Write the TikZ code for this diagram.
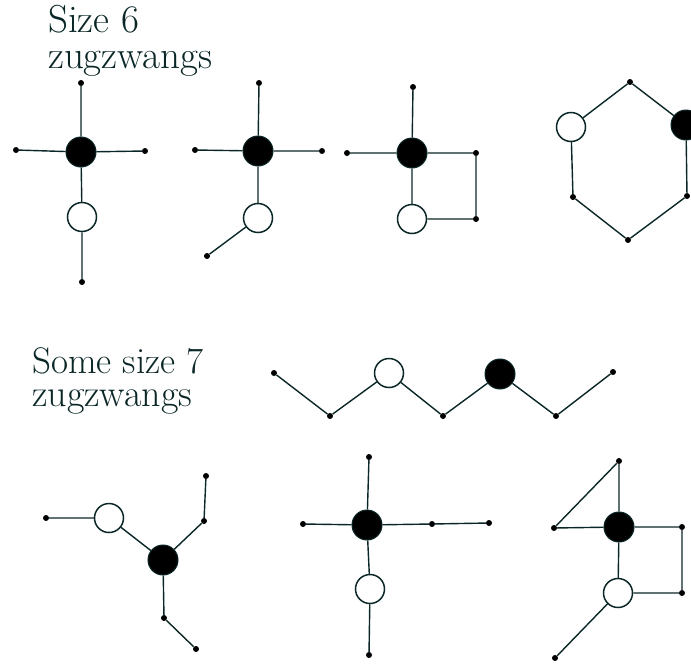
\documentclass[tikz,border=0pt]{standalone}
\definecolor{ink}{RGB}{10,38,38}
\begin{document}
\begin{tikzpicture}[x=1pt,y=-1pt,
  bnode/.style={circle,fill=black,draw=ink,line width=1pt,minimum size=30pt,inner sep=0pt},
  wnode/.style={circle,fill=white,draw=ink,line width=1.5pt,minimum size=29pt,inner sep=0pt},
  vdot/.style={circle,fill=black,draw=none,minimum size=6pt,inner sep=0pt},
  edge/.style={draw=ink,line width=1.4pt},
  lbl/.style={anchor=base west,inner sep=0pt,text=ink}]
\clip (0,0) rectangle (691,667);
\useasboundingbox (0,0) rectangle (691,667);
% labels
\node[lbl,font=\fontsize{39}{39}\selectfont] (t1) at (48,32) {Size 6};
\node[lbl,font=\fontsize{39}{39}\selectfont] (t2) at (48,68) {zugzwangs};
\node[lbl,font=\fontsize{37}{37}\selectfont] (t3) at (32,373) {Some size 7};
\node[lbl,font=\fontsize{38}{38}\selectfont] (t4) at (32,406) {zugzwangs};
% graph A
\node[bnode] (a0) at (81,152) {};
\node[wnode] (a1) at (82,217) {};
\node[vdot] (a2) at (81,83) {};
\node[vdot] (a3) at (16,150) {};
\node[vdot] (a4) at (145,151) {};
\node[vdot] (a5) at (82,282) {};
\path[edge] (a0)--(a2) (a0)--(a3) (a0)--(a4) (a0)--(a1) (a1)--(a5);
% graph B
\node[bnode] (b0) at (258,151) {};
\node[wnode] (b1) at (258,218) {};
\node[vdot] (b2) at (259,83) {};
\node[vdot] (b3) at (195,150) {};
\node[vdot] (b4) at (322,151) {};
\node[vdot] (b5) at (207,256) {};
\path[edge] (b0)--(b2) (b0)--(b3) (b0)--(b4) (b0)--(b1) (b1)--(b5);
% graph C
\node[bnode] (c0) at (412,153) {};
\node[wnode] (c1) at (412,219) {};
\node[vdot] (c2) at (413,87) {};
\node[vdot] (c3) at (347,153) {};
\node[vdot] (c4) at (476,153) {};
\node[vdot] (c5) at (476,219) {};
\path[edge] (c0)--(c2) (c0)--(c3) (c0)--(c4) (c4)--(c5) (c5)--(c1) (c0)--(c1);
% graph D (hexagon)
\node[vdot] (d0) at (630,82) {};
\node[wnode] (d1) at (571,127) {};
\node[bnode] (d2) at (686,125) {};
\node[vdot] (d3) at (573,197) {};
\node[vdot] (d4) at (687,196) {};
\node[vdot] (d5) at (628,240) {};
\path[edge] (d0)--(d1) (d0)--(d2) (d1)--(d3) (d3)--(d5) (d5)--(d4) (d4)--(d2);
% graph E (zigzag)
\node[vdot] (e0) at (274,373) {};
\node[vdot] (e1) at (330,416) {};
\node[wnode] (e2) at (389,373) {};
\node[vdot] (e3) at (443,416) {};
\node[bnode] (e4) at (500,374) {};
\node[vdot] (e5) at (556,416) {};
\node[vdot] (e6) at (613,372) {};
\path[edge] (e0)--(e1) (e1)--(e2) (e2)--(e3) (e3)--(e4) (e4)--(e5) (e5)--(e6);
% graph F
\node[vdot] (f0) at (46,518) {};
\node[wnode] (f1) at (109,518) {};
\node[bnode] (f2) at (163,560) {};
\node[vdot] (f3) at (204,521) {};
\node[vdot] (f4) at (206,476) {};
\node[vdot] (f5) at (164,618) {};
\node[vdot] (f6) at (196,649) {};
\path[edge] (f0)--(f1) (f1)--(f2) (f2)--(f3) (f3)--(f4) (f2)--(f5) (f5)--(f6);
% graph G
\node[bnode] (g0) at (367,525) {};
\node[wnode] (g1) at (370,589) {};
\node[vdot] (g2) at (369,457) {};
\node[vdot] (g3) at (303,524) {};
\node[vdot] (g4) at (432,524) {};
\node[vdot] (g5) at (489,523) {};
\node[vdot] (g6) at (369,655) {};
\path[edge] (g0)--(g2) (g0)--(g3) (g0)--(g4) (g4)--(g5) (g0)--(g1) (g1)--(g6);
% graph H
\node[bnode] (h0) at (619,527) {};
\node[wnode] (h1) at (618,593) {};
\node[vdot] (h2) at (619,461) {};
\node[vdot] (h3) at (554,528) {};
\node[vdot] (h4) at (682,527) {};
\node[vdot] (h5) at (682,593) {};
\node[vdot] (h6) at (555,658) {};
\path[edge] (h2)--(h3) (h0)--(h2) (h0)--(h3) (h0)--(h4) (h4)--(h5) (h5)--(h1) (h0)--(h1) (h1)--(h6);
\end{tikzpicture}
\end{document}
